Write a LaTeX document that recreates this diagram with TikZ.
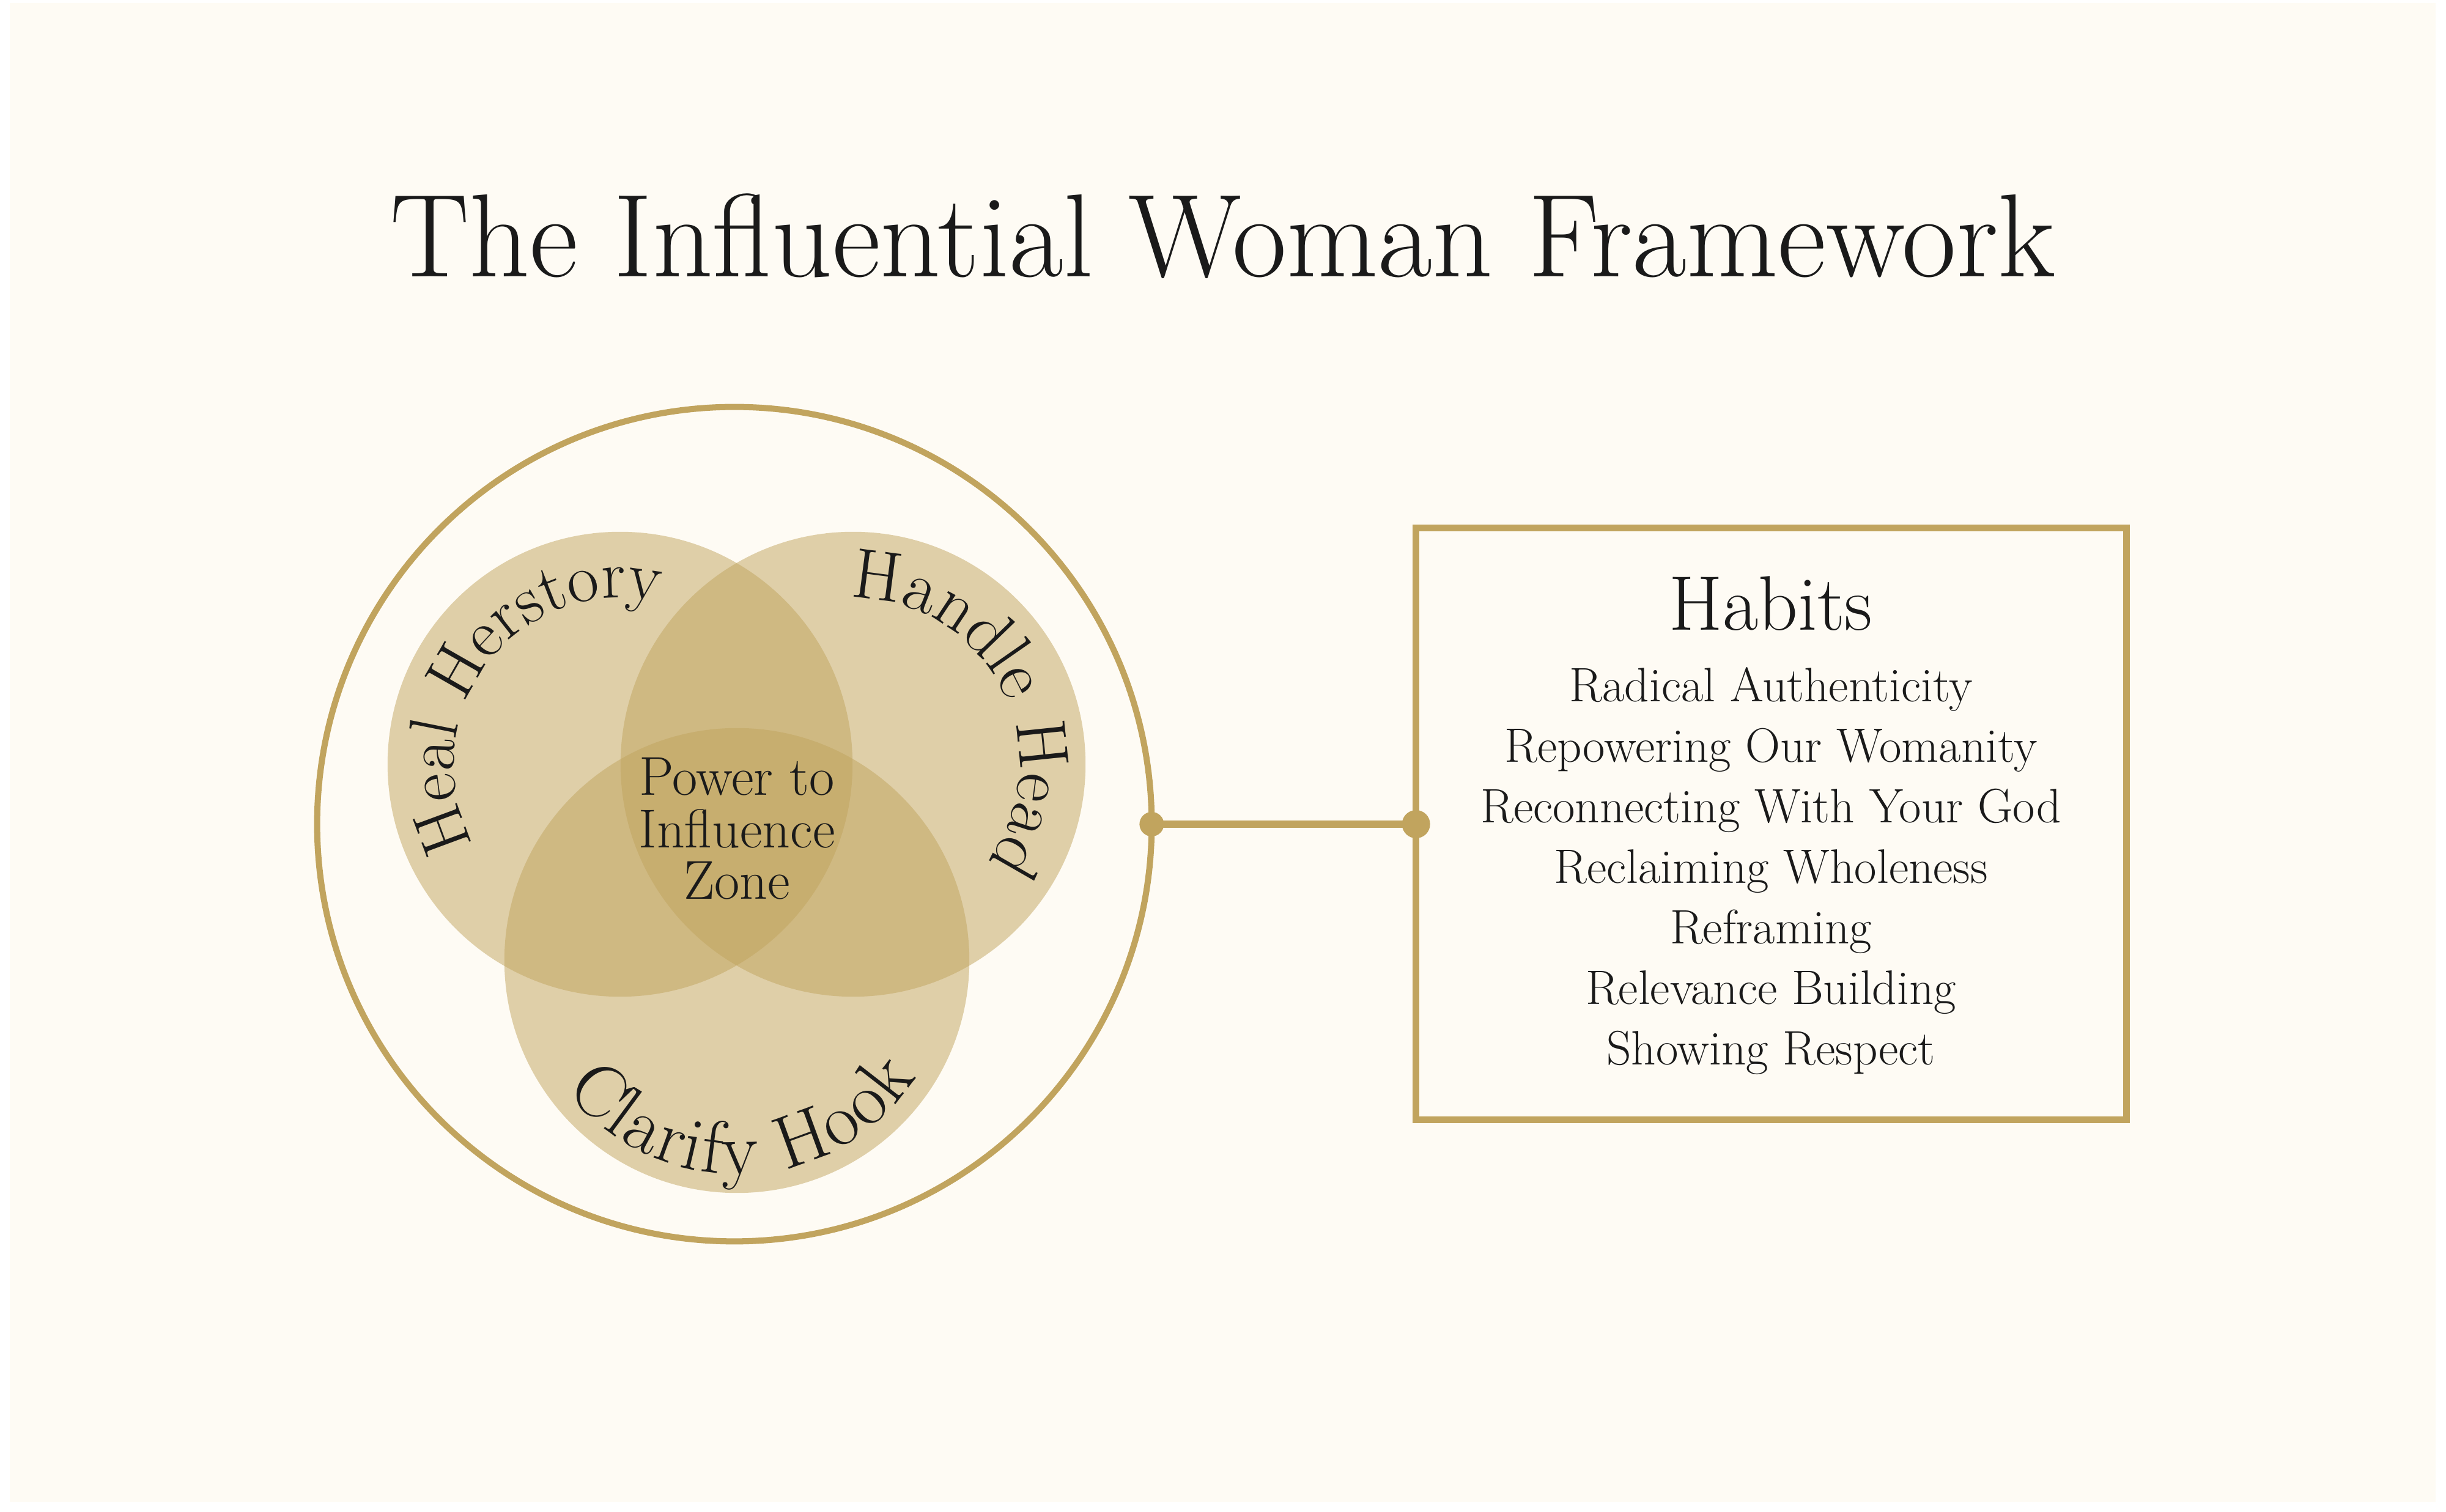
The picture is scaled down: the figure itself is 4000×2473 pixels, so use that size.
\documentclass[tikz,border=0pt]{standalone}
\usetikzlibrary{decorations.text}
\definecolor{cream}{HTML}{FEFBF4}
\definecolor{gold}{HTML}{C1A45E}
\definecolor{ink}{HTML}{1A1A1A}
\newcommand\arcfontA{\fontsize{32}{38}\selectfont}
\newcommand\arcfontH{\fontsize{33}{40}\selectfont}
\newcommand\arcfontB{\fontsize{35}{42}\selectfont}
\tikzset{
  venn/.style={circle, fill=gold, fill opacity=0.5, minimum size=7.6cm, inner sep=0pt, outer sep=0pt},
  goldline/.style={draw=gold, line width=3.2pt},
  itemtext/.style={text=ink, font=\fontsize{22.5}{27}\selectfont, anchor=base, inner sep=0pt},
  zonetext/.style={text=ink, font=\fontsize{25.5}{30}\selectfont, anchor=base, inner sep=0pt},
  arctext/.style={postaction={decorate}, decoration={text along path, text align=fit to path, text color=ink, text={#1}}},
  arctextc/.style={postaction={decorate}, decoration={text along path, text align=center, text color=ink, text={#1}}}
}
\begin{document}
\begin{tikzpicture}[x=0.01cm,y=0.01cm]
\useasboundingbox (0,0) rectangle (4000,2473);
\fill[white] (0,0) rectangle (4000,2473);
\fill[cream] (16,16) rectangle (3983,2468);

% title
\node[text=ink, font=\fontsize{55}{66}\selectfont, anchor=base, inner sep=0pt] (title) at (2000,2020) {The Influential Woman Framework};

% outer circle
\node[circle, draw=gold, line width=2.85pt, minimum size=13.64cm, inner sep=0pt, outer sep=0pt] (outer) at (1201,1125) {};

% venn circles
\node[venn] (heal) at (1014,1223) {};
\node[venn] (handle) at (1395,1223) {};
\node[venn] (clarify) at (1205,902) {};

% centre text
\node[zonetext] (z1) at (1205,1172) {Power to};
\node[zonetext] (z2) at (1205,1086) {Influence};
\node[zonetext] (z3) at (1205,1002) {Zone};

% curved labels
\path[arctextc={|\arcfontA|Heal Herstory}] (heal.center) ++(230:272) arc[start angle=230, end angle=55, radius=272];
\path[arctext={|\arcfontH|Handle Head}] (handle.center) ++(91:272) arc[start angle=91, end angle=-30, radius=272];
\path[arctext={|\arcfontB|Clarify Hook}] (clarify.center) ++(217:350) arc[start angle=217, end angle=327, radius=350];

% habits box
\node[goldline, minimum width=11.61cm, minimum height=9.67cm, inner sep=0pt, outer sep=0pt] (box) at (2896.5,1125.5) {};

% connector
\coordinate (c1) at (outer.east);
\coordinate (c2) at (outer.east -| box.west);
\draw[gold, line width=3.3pt] (c1) -- (c2);
\fill[gold] (c1) circle[radius=20];
\fill[gold] (c2) circle[radius=23];

% habits text
\node[text=ink, font=\fontsize{36}{42}\selectfont, anchor=base, inner sep=0pt] (habits) at (2896,1442) {Habits};
\foreach \t [count=\i from 0] in {Radical Authenticity, Repowering Our Womanity, Reconnecting With Your God, Reclaiming Wholeness, Reframing, Relevance Building, Showing Respect}
  \node[itemtext] (item\i) at (2896,{1325-98.9*\i}) {\t};
\end{tikzpicture}
\end{document}
